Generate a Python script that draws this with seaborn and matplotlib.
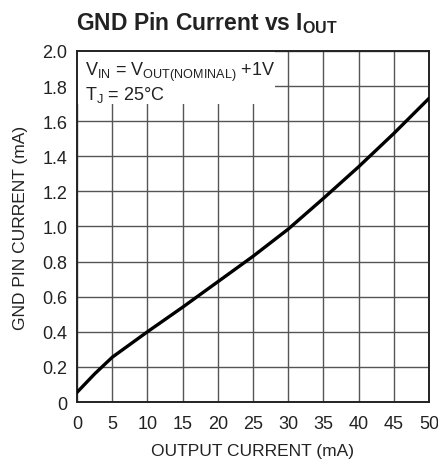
import numpy as np
import pandas as pd
import matplotlib.pyplot as plt
import seaborn as sns
from matplotlib.patches import Rectangle

# values
output_current = [0, 2.5, 5, 10, 15, 20, 25, 30, 35, 40, 45, 50]
gnd_current = [0.055, 0.16, 0.255, 0.40, 0.54, 0.685, 0.83, 0.985, 1.16, 1.34, 1.53, 1.73]

x_ticks = [0, 5, 10, 15, 20, 25, 30, 35, 40, 45, 50]
y_ticks = [0, 0.2, 0.4, 0.6, 0.8, 1.0, 1.2, 1.4, 1.6, 1.8, 2.0]
y_tick_labels = ['0', '0.2', '0.4', '0.6', '0.8', '1.0', '1.2', '1.4', '1.6', '1.8', '2.0']

df = pd.DataFrame({'iout': output_current, 'ignd': gnd_current})

sns.set_theme(style='white')
plt.rcParams['font.family'] = ['Liberation Sans Narrow', 'Liberation Sans', 'DejaVu Sans']
plt.rcParams['mathtext.fontset'] = 'custom'
plt.rcParams['mathtext.rm'] = 'Liberation Sans'
plt.rcParams['mathtext.bf'] = 'Liberation Sans:bold'

fig = plt.figure(figsize=(4.39, 4.60), dpi=100)
ax = fig.add_axes([0.1754, 0.1239, 0.8018, 0.7631])

ax.set_xlim(0, 50)
ax.set_ylim(0, 2.0)
ax.set_xticks(x_ticks)
ax.set_yticks(y_ticks)
ax.set_yticklabels(y_tick_labels)
ax.grid(True, color='#555555', linewidth=1.0)
ax.set_axisbelow(True)

# white patch that hides the grid behind the condition text
ax.add_patch(Rectangle((0, 1.70), 28.1, 0.30, facecolor='white', edgecolor='none', zorder=1.5))

sns.lineplot(data=df, x='iout', y='ignd', color='black', linewidth=2.4, ax=ax, zorder=3)

for s in ax.spines.values():
    s.set_color('#222222')
    s.set_linewidth(1.4)

ax.tick_params(axis='both', labelsize=13, length=0, colors='#222222')
ax.tick_params(axis='x', pad=9)
ax.tick_params(axis='y', pad=7)
ax.set_xlabel('OUTPUT CURRENT (mA)', fontsize=12.5, color='#222222', labelpad=8)
ax.set_ylabel('GND PIN CURRENT (mA)', fontsize=12.5, color='#222222', labelpad=10)

ax.text(1.2, 1.95, r'V$_{\mathrm{IN}}$ = V$_{\mathrm{OUT(NOMINAL)}}$ +1V', fontsize=13,
        va='top', ha='left', color='#222222', zorder=4)
ax.text(1.2, 1.81, r'T$_{\mathrm{J}}$ = 25°C', fontsize=13,
        va='top', ha='left', color='#222222', zorder=4)

fig.text(0.173, 0.935, r'GND Pin Current vs I$_{\mathbf{OUT}}$', fontsize=16.5,
         fontweight='bold', ha='left', va='baseline', color='#222222')

plt.savefig('out.png', dpi=100)
plt.close()
